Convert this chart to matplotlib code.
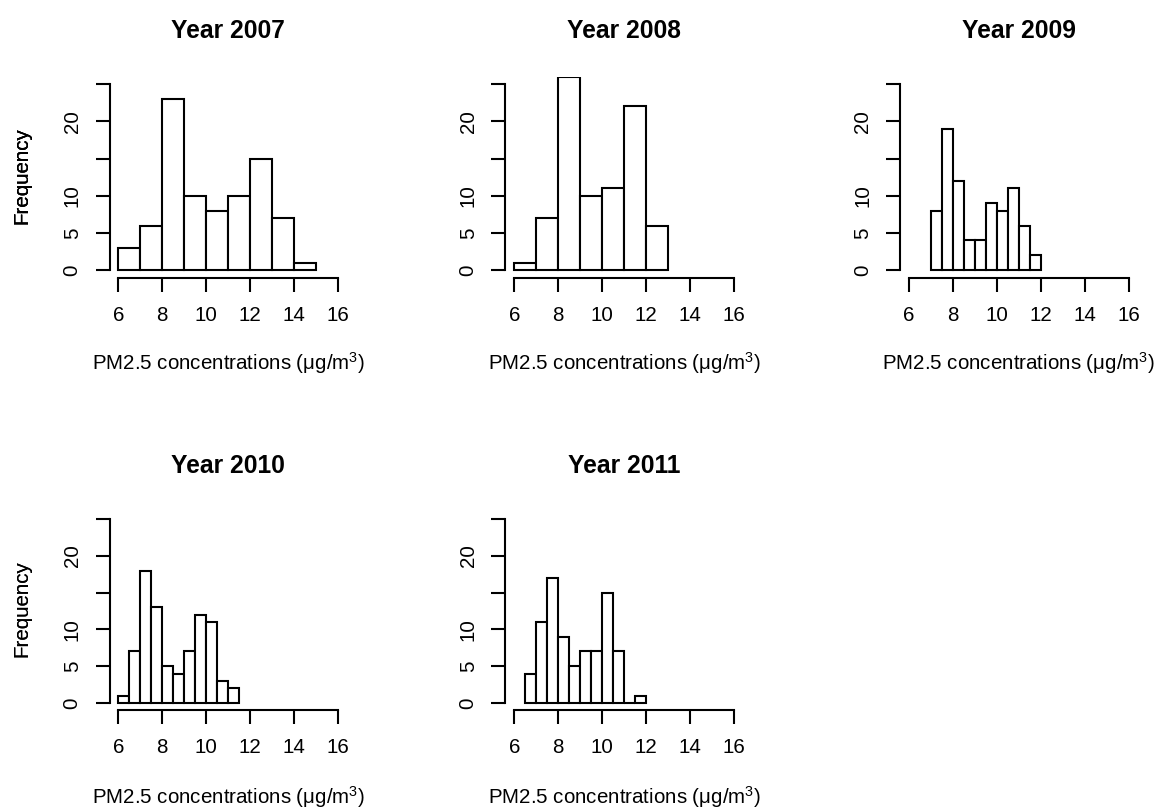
import matplotlib
matplotlib.use("Agg")
import matplotlib.pyplot as plt
import numpy as np

plt.rcParams['font.family'] = ['Liberation Sans', 'DejaVu Sans']
plt.rcParams['mathtext.fontset'] = 'custom'
plt.rcParams['mathtext.rm'] = 'Liberation Sans'
plt.rcParams['mathtext.it'] = 'Liberation Sans:italic'

# ── data: bin edges and counts per year ──────────────────────────────────────
years = [2007, 2008, 2009, 2010, 2011]

edges_2007 = [6, 7, 8, 9, 10, 11, 12, 13, 14, 15]
counts_2007 = [3, 6, 23, 10, 8, 10, 15, 7, 1]

edges_2008 = [6, 7, 8, 9, 10, 11, 12, 13]
counts_2008 = [1, 7, 26, 10, 11, 22, 6]

edges_2009 = [7, 7.5, 8, 8.5, 9, 9.5, 10, 10.5, 11, 11.5, 12]
counts_2009 = [8, 19, 12, 4, 4, 9, 8, 11, 6, 2]

edges_2010 = [6, 6.5, 7, 7.5, 8, 8.5, 9, 9.5, 10, 10.5, 11, 11.5]
counts_2010 = [1, 7, 18, 13, 5, 4, 7, 12, 11, 3, 2]

edges_2011 = [6.5, 7, 7.5, 8, 8.5, 9, 9.5, 10, 10.5, 11, 11.5, 12]
counts_2011 = [4, 11, 17, 9, 5, 7, 7, 15, 7, 0, 1]

all_edges = [edges_2007, edges_2008, edges_2009, edges_2010, edges_2011]
all_counts = [counts_2007, counts_2008, counts_2009, counts_2010, counts_2011]

x_ticks = [6, 8, 10, 12, 14, 16]
y_ticks = [0, 5, 10, 15, 20, 25]
y_ticklabels = ['0', '5', '10', '', '20', '']

# ── layout (pixel positions of x=6 and y=0/25 for each panel) ────────────────
W, H = 1160, 810
col_x6 = [118.3, 514.3, 909.0]
row_y = [(270.3, 84.0), (703.0, 519.0)]
row_xlab = [370, 804]    # baseline of the x label, in pixels
ppu_x = 22.0

fig = plt.figure(figsize=(W / 100, H / 100), dpi=100)

for i, year in enumerate(years):
    r, c = divmod(i, 3)
    x6 = col_x6[c]
    y0, y25 = row_y[r]
    ppu_y = (y0 - y25) / 25.0
    left = x6 - 0.4 * ppu_x
    width = 10.8 * ppu_x
    bottom = y0 + ppu_y
    height = 27 * ppu_y
    ax = fig.add_axes([left / W, 1 - bottom / H, width / W, height / H])

    edges = np.array(all_edges[i], dtype=float)
    counts = all_counts[i]
    ax.bar(edges[:-1], counts, width=np.diff(edges), align='edge',
           facecolor='white', edgecolor='black', linewidth=1.5)

    ax.set_xlim(5.6, 16.4)
    ax.set_ylim(-1, 26)
    for s in ['top', 'right']:
        ax.spines[s].set_visible(False)
    ax.spines['left'].set_bounds(0, 25)
    ax.spines['bottom'].set_bounds(6, 16)
    for s in ['left', 'bottom']:
        ax.spines[s].set_linewidth(1.5)

    ax.set_xticks(x_ticks)
    ax.set_yticks(y_ticks)
    ax.set_yticklabels(y_ticklabels)
    ax.tick_params(axis='both', length=10, width=1.5, labelsize=14.8)
    ax.tick_params(axis='x', pad=10)
    ax.tick_params(axis='y', pad=10, labelrotation=90)
    for lab in ax.get_yticklabels():
        lab.set_va('center')

    ax.set_title(f"Year {year}", fontsize=17.7, fontweight='bold', pad=28)

    ax.set_xlabel(r"PM2.5 concentrations (μg/m$^{3}$)", fontsize=14.8)
    ax.xaxis.label.set_va('baseline')
    ax.xaxis.set_label_coords(0.5, -(row_xlab[r] - bottom) / height)

    ax.set_ylabel("Frequency", fontsize=14.8)
    ax.yaxis.label.set_va('top')
    ax.yaxis.set_label_coords((12 - left) / width, 0.51)

fig.savefig("out.png", dpi=100)
